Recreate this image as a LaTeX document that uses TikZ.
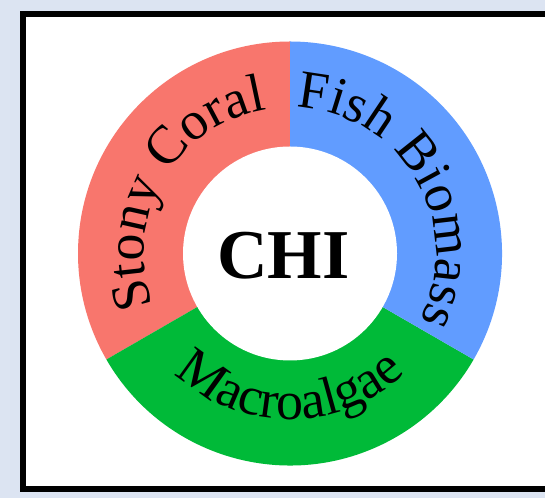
\documentclass[tikz,border=0pt]{standalone}
\usepackage{fontspec}
\usepackage{tikz}
\usetikzlibrary{calc,decorations.text}
\definecolor{pageblue}{HTML}{DCE4F2}
\definecolor{coralred}{HTML}{F8766D}
\definecolor{algaegreen}{HTML}{00BA38}
\definecolor{fishblue}{HTML}{619CFF}
\newfontfamily\ringserif{Liberation Serif}
\newcommand\ringfont{\ringserif\fontsize{54bp}{60bp}\selectfont}

\begin{document}
\begin{tikzpicture}[
    x=1bp, y=1bp,
    frame/.style={draw=black, line width=6bp, fill=white},
    seg/.style={draw=none},
    hole/.style={fill=white, draw=none},
    ringlbl/.style={decorate, decoration={text along path, text align=center, text={|\ringfont|#1}}},
    title/.style={font=\ringserif\bfseries\fontsize{70bp}{74bp}\selectfont, inner sep=0pt}
]
\useasboundingbox (0,0) rectangle (545,498);
\fill[pageblue] (0,0) rectangle (545,498);
\begin{scope}
\clip (0,0) rectangle (545,498);
\draw[frame] (23,9) rectangle (570,484);
\end{scope}

\coordinate (ctr) at (290,244.5);
\fill[seg, coralred] (ctr) -- ++(90:212) arc[start angle=90, end angle=210, radius=212] -- cycle;
\fill[seg, algaegreen] (ctr) -- ++(210:212) arc[start angle=210, end angle=330, radius=212] -- cycle;
\fill[seg, fishblue] (ctr) -- ++(330:212) arc[start angle=-30, end angle=90, radius=212] -- cycle;
\fill[hole] (ctr) circle (107);

\path[ringlbl={Stony Coral}] ($(ctr)+(240:146)$) arc[start angle=240, end angle=60, radius=146];
\path[ringlbl={Fish Biomass}] ($(ctr)+(120:146)$) arc[start angle=120, end angle=-60, radius=146];
\path[ringlbl={Macroalgae}] ($(ctr)+(180:166)$) arc[start angle=180, end angle=360, radius=166];

\node[title] (chi) at ($(ctr)+(-6.5,-2.5)$) {CHI};
\end{tikzpicture}
\end{document}
